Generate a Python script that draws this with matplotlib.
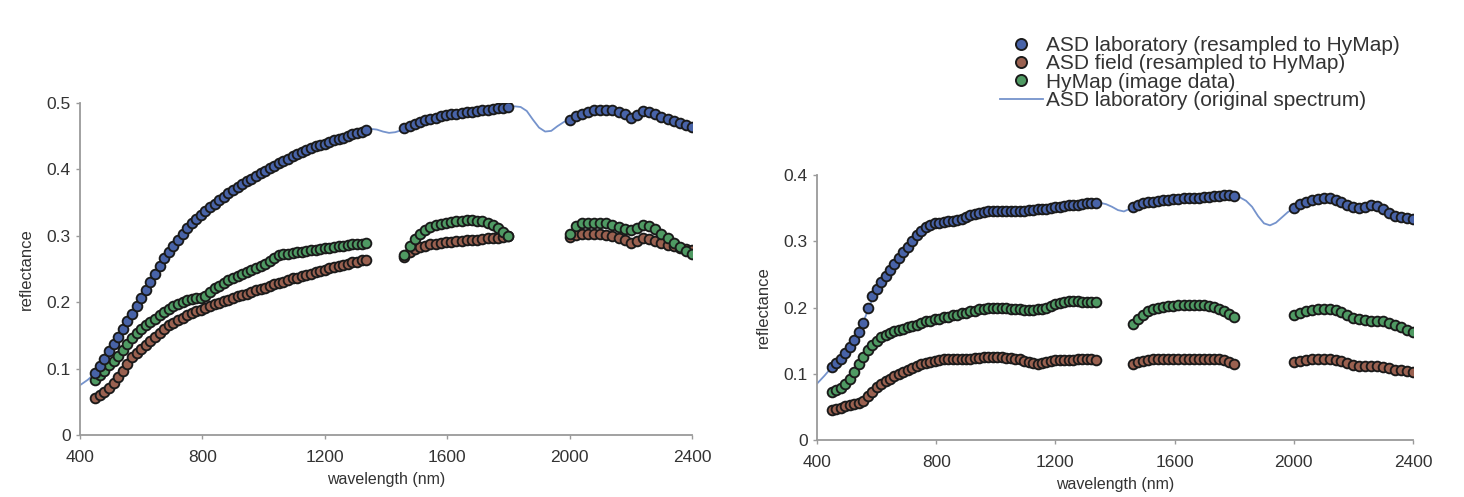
import matplotlib
matplotlib.use("Agg")
import matplotlib.pyplot as plt
from matplotlib.lines import Line2D

plt.rcParams['font.family'] = ['Liberation Sans', 'DejaVu Sans']

# ---------------- data ----------------
# HyMap band centres (nm), three spectral windows
wl_seg1 = [450, 465, 480, 495, 510, 525, 540, 555, 570, 585,
           600, 615, 630, 645, 660, 675, 690, 705, 720, 735,
           750, 765, 780, 795, 810, 825, 840, 855, 870, 885,
           900, 915, 930, 945, 960, 975, 990, 1005, 1020, 1035,
           1050, 1065, 1080, 1095, 1110, 1125, 1140, 1155, 1170, 1185,
           1200, 1215, 1230, 1245, 1260, 1275, 1290, 1305, 1320, 1335]
wl_seg2 = [1460, 1477, 1494, 1511, 1528, 1545, 1562, 1579, 1596, 1613, 1630, 1647, 1664,
           1681, 1698, 1715, 1732, 1749, 1766, 1783, 1800]
wl_seg3 = [2000, 2020, 2040, 2060, 2080, 2100, 2120, 2140, 2160, 2180, 2200, 2220, 2240,
           2260, 2280, 2300, 2320, 2340, 2360, 2380, 2400]

# ---- left panel ----
left_lab = ([.093, .104, .115, .126, .137, .148, .160, .171, .182, .194,
             .206, .218, .230, .242, .254, .266, .276, .285, .294, .303,
             .311, .319, .326, .332, .338, .343, .348, .354, .359, .364,
             .369, .374, .378, .382, .386, .390, .394, .398, .402, .405,
             .409, .413, .416, .420, .423, .426, .429, .432, .435, .437,
             .439, .442, .444, .446, .448, .451, .453, .455, .457, .459]
            + [.462, .466, .469, .472, .474, .476, .478, .480, .482, .483, .484, .485, .486, .487,
               .488, .489, .490, .491, .492, .493, .494]
            + [.474, .480, .484, .487, .489, .490, .490, .489, .487, .483, .478, .482, .488, .487,
               .483, .479, .476, .473, .470, .467, .464])
left_hymap = ([.083, .090, .097, .105, .112, .119, .128, .137, .146, .153,
               .159, .165, .170, .175, .180, .185, .190, .195, .198, .201,
               .203, .205, .206, .207, .210, .216, .221, .225, .229, .233,
               .236, .240, .243, .246, .249, .252, .255, .258, .262, .267,
               .271, .272, .273, .274, .275, .276, .277, .278, .279, .280,
               .281, .282, .283, .284, .285, .286, .287, .288, .288, .289]
              + [.271, .284, .295, .303, .309, .313, .316, .318, .320, .321, .322, .323, .324, .324,
                 .323, .322, .320, .316, .311, .305, .299]
              + [.303, .315, .319, .320, .320, .320, .319, .317, .314, .310, .308, .312, .316, .315,
                 .310, .303, .296, .289, .283, .277, .272])
left_field = ([.056, .060, .065, .071, .078, .087, .096, .107, .118, .124,
               .130, .136, .142, .148, .154, .160, .165, .169, .173, .176,
               .180, .183, .186, .189, .192, .194, .197, .199, .202, .204,
               .206, .209, .211, .213, .216, .218, .220, .222, .225, .227,
               .229, .231, .234, .236, .237, .239, .241, .243, .245, .247,
               .249, .251, .253, .254, .256, .258, .260, .261, .263, .264]
              + [.268, .275, .280, .283, .285, .287, .288, .289, .290, .291, .292, .292, .293, .294,
                 .294, .295, .296, .296, .297, .298, .299]
              + [.298, .301, .302, .302, .302, .302, .301, .300, .297, .293, .289, .292, .296, .295,
                 .292, .289, .286, .284, .282, .280, .278])

# original (full-resolution) laboratory spectrum
wl_orig = [400, 425, 450, 500, 550, 600, 650, 700, 750, 800, 850, 900, 950, 1000, 1050, 1100,
           1150, 1200, 1250, 1300, 1330, 1350, 1370, 1390, 1410, 1430, 1450, 1470, 1500, 1550,
           1600, 1650, 1700, 1750, 1800, 1820, 1840, 1860, 1880, 1900, 1920, 1940, 1960, 1980,
           2000, 2050, 2100, 2150, 2200, 2220, 2240, 2260, 2300, 2350, 2400]
left_orig = [.075, .083, .093, .129, .166, .206, .246, .281, .311, .334, .352, .369, .384, .397, .409,
             .421, .431, .440, .447, .455, .459, .461, .460, .457, .455, .456, .459, .464, .471,
             .477, .482, .485, .488, .491, .494, .495, .494, .488, .475, .463, .457, .458, .465,
             .471, .476, .487, .490, .488, .478, .482, .488, .487, .479, .471, .464]

# ---- right panel ----
right_lab = ([.110, .116, .123, .131, .140, .151, .163, .177, .200, .217,
              .228, .238, .248, .257, .266, .275, .284, .292, .300, .309,
              .316, .321, .324, .327, .328, .329, .330, .331, .332, .334,
              .336, .339, .341, .343, .344, .345, .346, .346, .346, .346,
              .346, .346, .346, .346, .347, .347, .348, .348, .349, .350,
              .351, .352, .353, .354, .355, .355, .356, .357, .358, .358]
             + [.352, .355, .357, .359, .360, .361, .362, .363, .364, .364, .365, .365, .366, .366,
                .367, .367, .368, .369, .370, .370, .368]
             + [.350, .356, .360, .362, .364, .365, .365, .363, .359, .354, .351, .350, .352, .355,
                .353, .348, .343, .338, .336, .335, .333])
right_hymap = ([.072, .075, .079, .084, .092, .102, .114, .126, .136, .144,
                .150, .155, .158, .161, .164, .166, .168, .170, .172, .174,
                .177, .179, .180, .182, .183, .185, .186, .188, .189, .191,
                .192, .194, .195, .197, .198, .199, .200, .200, .200, .199,
                .198, .197, .197, .196, .196, .196, .197, .198, .200, .202,
                .205, .207, .209, .210, .210, .210, .209, .209, .208, .208]
               + [.175, .182, .189, .194, .197, .199, .201, .202, .203, .204, .204, .204, .204, .204,
                  .204, .203, .201, .198, .194, .190, .186]
               + [.188, .192, .195, .196, .197, .197, .197, .196, .193, .188, .184, .182, .181, .180,
                  .180, .179, .177, .174, .170, .166, .163])
right_field = ([.046, .047, .049, .051, .053, .054, .056, .059, .066, .073,
                .080, .085, .089, .092, .096, .099, .102, .105, .108, .111,
                .114, .116, .118, .120, .121, .122, .122, .122, .122, .122,
                .123, .123, .124, .124, .125, .125, .125, .125, .125, .124,
                .124, .123, .122, .120, .118, .116, .115, .116, .118, .120,
                .121, .121, .121, .121, .121, .122, .122, .122, .122, .121]
               + [.115, .118, .120, .121, .122, .122, .122, .123, .123, .123, .123, .123, .123, .123,
                  .123, .123, .122, .122, .121, .118, .114]
               + [.118, .120, .121, .122, .122, .122, .122, .121, .119, .116, .113, .112, .112, .112,
                  .111, .110, .108, .106, .105, .104, .103])
right_orig = [.085, .097, .110, .134, .172, .229, .260, .290, .316, .327, .330, .336, .343, .346, .346,
              .346, .348, .351, .354, .356, .358, .358, .356, .352, .347, .345, .349, .353, .358,
              .361, .363, .365, .366, .368, .368, .366, .361, .352, .338, .327, .324, .328, .336,
              .344, .350, .361, .365, .361, .351, .350, .352, .355, .348, .337, .333]

x_ticks = [400, 800, 1200, 1600, 2000, 2400]
y_ticks_left = [0, 0.1, 0.2, 0.3, 0.4, 0.5]
y_ticks_right = [0, 0.1, 0.2, 0.3, 0.4]

labels = ["ASD laboratory (resampled to HyMap)",
          "ASD field (resampled to HyMap)",
          "HyMap (image data)",
          "ASD laboratory (original spectrum)"]

# ---------------- style ----------------
c_lab = "#4863a8"
c_field = "#9a6150"
c_hymap = "#4f9a63"
c_edge = "#1a1a1a"
c_line = "#7593cc"
c_axis = "#9a9a9a"
c_text = "#333333"
ms = 7.0
mew = 1.35

W, H = 1464, 497
fig = plt.figure(figsize=(W / 100, H / 100), dpi=100)

wl_all = wl_seg1 + wl_seg2 + wl_seg3


def make_axes(px_left, px_right, px_bottom, px_top):
    return fig.add_axes([px_left / W, 1 - px_bottom / H,
                         (px_right - px_left) / W, (px_bottom - px_top) / H])


def draw(ax, lab, field, hymap, orig, yticks, ymax):
    ax.plot(wl_orig, orig, color=c_line, lw=1.3, zorder=1)
    ax.plot(wl_all, field, ls='none', marker='o', ms=ms, mfc=c_field, mec=c_edge, mew=mew, zorder=2)
    ax.plot(wl_all, hymap, ls='none', marker='o', ms=ms, mfc=c_hymap, mec=c_edge, mew=mew, zorder=3)
    ax.plot(wl_all, lab, ls='none', marker='o', ms=ms, mfc=c_lab, mec=c_edge, mew=mew, zorder=4)
    ax.set_xlim(400, 2400)
    ax.set_ylim(0, ymax)
    ax.set_xticks(x_ticks)
    ax.set_yticks(yticks)
    ax.set_yticklabels([("%g" % v) for v in yticks])
    for s in ['top', 'right']:
        ax.spines[s].set_visible(False)
    for s in ['left', 'bottom']:
        ax.spines[s].set_color(c_axis)
        ax.spines[s].set_linewidth(1.3)
    ax.tick_params(axis='both', colors=c_axis, labelcolor=c_text, labelsize=12.5,
                   length=3, width=1, direction='out')
    ax.tick_params(axis='x', pad=8)
    ax.set_xlabel("wavelength (nm)", fontsize=11.5, color=c_text, labelpad=5)
    ax.set_ylabel("reflectance", fontsize=12, color=c_text, labelpad=9)
    ax.patch.set_alpha(0)


axL = make_axes(80, 692, 435, 103)
draw(axL, left_lab, left_field, left_hymap, left_orig, y_ticks_left, 0.5)

axR = make_axes(817, 1413, 440, 175)
draw(axR, right_lab, right_field, right_hymap, right_orig, y_ticks_right, 0.4)

handles = [
    Line2D([], [], ls='none', marker='o', ms=ms + 1, mfc=c_lab, mec=c_edge, mew=mew),
    Line2D([], [], ls='none', marker='o', ms=ms + 1, mfc=c_field, mec=c_edge, mew=mew),
    Line2D([], [], ls='none', marker='o', ms=ms + 1, mfc=c_hymap, mec=c_edge, mew=mew),
    Line2D([], [], color=c_line, lw=1.3),
]
fig.legend(handles, labels, loc='upper left', bbox_to_anchor=(1000 / W, 1 - 36 / H),
           frameon=False, fontsize=15, labelspacing=-0.03, handlelength=2.05,
           handletextpad=0.15, borderpad=0, borderaxespad=0, labelcolor=c_text)

fig.savefig("out.png", dpi=100)
